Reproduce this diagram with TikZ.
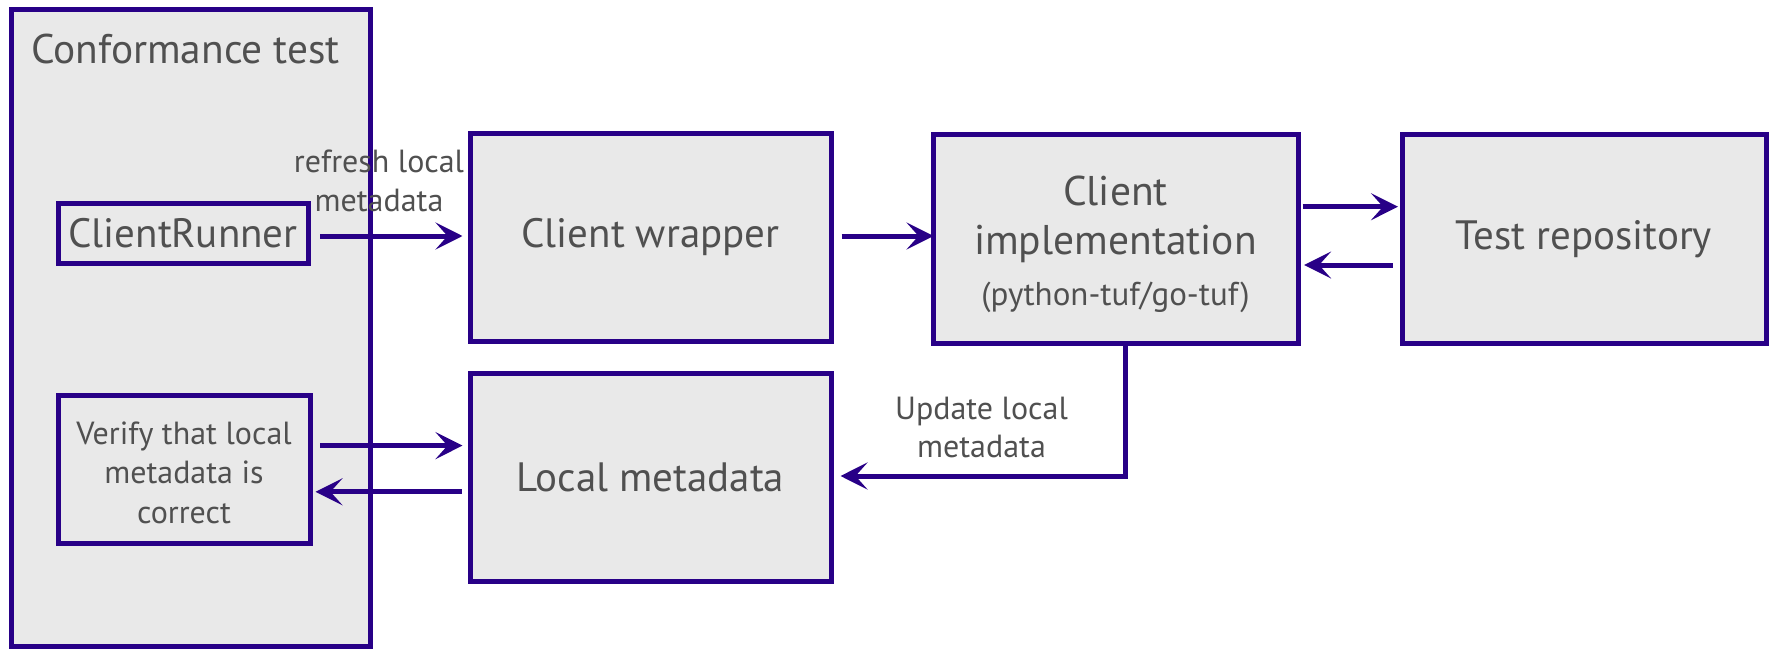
\documentclass[tikz,border=0pt]{standalone}
\usepackage{fontspec}
\setmainfont{PT Sans}
\usetikzlibrary{arrows.meta}
\definecolor{boxline}{RGB}{40,0,135}
\definecolor{boxfill}{RGB}{233,233,233}
\definecolor{txtgray}{RGB}{80,80,80}
\tikzset{
  block/.style={draw=boxline,fill=boxfill,line width=5pt,inner sep=0pt,text=txtgray,align=center,font=\fontsize{41}{49}\selectfont},
  flow/.style={draw=boxline,line width=5pt,-{Stealth[length=27pt,width=27pt,inset=12pt]}},
  note/.style={text=txtgray,align=center,inner sep=0pt,font=\fontsize{32}{38.6}\selectfont}
}
\begin{document}
\begin{tikzpicture}[x=1pt,y=-1pt]
    \useasboundingbox (0,0) rectangle (1772,658);
    \node[block,minimum width=359pt,minimum height=636pt] (conf) at (190.5,328) {};
    \node[anchor=base west,text=txtgray,inner sep=0pt,font=\fontsize{41.4}{49}\selectfont] (conftitle) at (31,64) {Conformance test};
    \node[block,minimum width=250pt,minimum height=60pt] (runner) at (183,233) {ClientRunner};
    \node[block,minimum width=252pt,minimum height=148pt] (verify) at (184,469) {};
    \node[note,font=\fontsize{32}{39.5}\selectfont] (verifytext) at ([yshift=-3.5pt]verify.center) {Verify that local\\metadata is\\correct};
    \node[block,minimum width=361pt,minimum height=207pt] (wrapper) at (650.5,237.5) {Client wrapper};
    \node[block,minimum width=361pt,minimum height=208pt] (localmeta) at (650.5,477) {Local metadata};
    \node[block,minimum width=365pt,minimum height=208pt] (impl) at (1115.5,239) {};
    \node[note,font=\fontsize{41.5}{49}\selectfont] (impltext) at ([yshift=-5pt]impl.center) {Client\\implementation\\[2pt]{\fontsize{33}{38}\selectfont(python-tuf/go-tuf)}};
    \node[block,minimum width=364pt,minimum height=208pt] (repo) at (1584,239) {Test repository};
    \draw[flow] ([xshift=9.5pt,yshift=-3pt]runner.east) -- ([xshift=-5pt,yshift=1.5pt]wrapper.west);
    \node[note] (refresh) at (379,181) {refresh local\\metadata};
    \draw[flow] ([xshift=8pt,yshift=1.5pt]wrapper.east) -- ([xshift=3pt,yshift=3pt]impl.west);
    \draw[flow] ([xshift=2pt,yshift=32.3pt]impl.east) -- ([xshift=-1.5pt,yshift=32.3pt]repo.west);
    \draw[flow] ([xshift=-7pt,yshift=-26pt]repo.west) -- ([xshift=3.6pt,yshift=-26pt]impl.east);
    \draw[flow] ([xshift=7.5pt,yshift=23.4pt]verify.east) -- ([xshift=-5pt,yshift=31.4pt]localmeta.west);
    \draw[flow] ([xshift=-6pt,yshift=-14.8pt]localmeta.west) -- ([xshift=3pt,yshift=-22.8pt]verify.east);
    \draw[flow] ([xshift=9.5pt]impl.south) |- ([xshift=7pt,yshift=1pt]localmeta.east);
    \node[note] (update) at (981.5,427.5) {Update local\\metadata};
\end{tikzpicture}
\end{document}
